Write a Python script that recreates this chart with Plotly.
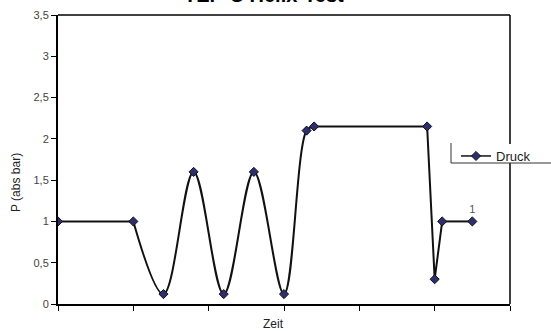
import plotly.graph_objects as go

# ---- data ----
zeit = [0, 1, 1.4, 1.8, 2.2, 2.6, 3.0, 3.3, 3.4, 4.9, 5.0, 5.1, 5.5]
druck = [1, 1, 0.12, 1.6, 0.12, 1.6, 0.12, 2.1, 2.15, 2.15, 0.3, 1, 1]
point_labels = [""] * 12 + ["1"]
y_tickvals = [0, 0.5, 1, 1.5, 2, 2.5, 3, 3.5]
y_ticktext = ["0", "0,5", "1", "1,5", "2", "2,5", "3", "3,5"]
x_tickvals = [0, 1, 2, 3, 4, 5, 6]

# how the connecting line is drawn between point indices (Excel-like smoothing)
segments = [(0, 1, "linear"), (1, 8, "spline"), (8, 9, "linear"),
            (9, 11, "linear"), (11, 12, "linear")]

FONT = "Liberation Sans, Arial, sans-serif"
LINE = dict(color="#111", width=2)
MARKER = dict(symbol="diamond", size=7, color="#2E2E6E",
              line=dict(color="#111", width=1))

# plot area in pixels
W, H = 551, 331
L, R, T, B = 58, 510, 15, 304
pw, ph = R - L, B - T


def px(x):
    return (x - L) / pw


def py(y):
    return (B - y) / ph


fig = go.Figure()
for a, b, shape in segments:
    fig.add_trace(go.Scatter(
        x=zeit[a:b + 1], y=druck[a:b + 1], mode="lines",
        line=dict(**LINE, shape=shape, smoothing=1),
        showlegend=False, hoverinfo="skip"))

fig.add_trace(go.Scatter(
    x=zeit, y=druck, name="Druck", mode="markers+text",
    text=point_labels, textposition="top center",
    textfont=dict(family=FONT, size=11, color="#555"),
    marker=MARKER, showlegend=False))

# legend entry
fig.add_trace(go.Scatter(
    x=[None], y=[None], name="Druck", mode="lines+markers",
    line=dict(color="#111", width=1.5), marker=MARKER, showlegend=True))

fig.update_layout(
    width=W, height=H,
    margin=dict(l=L, r=W - R, t=T, b=H - B, autoexpand=False),
    paper_bgcolor="white", plot_bgcolor="white",
    font=dict(family=FONT, size=11, color="#333"),
    showlegend=True,
    legend=dict(x=px(456), y=py(141), xanchor="left", yanchor="top",
                bgcolor="rgba(0,0,0,0)", borderwidth=0,
                font=dict(family=FONT, size=13, color="#222"),
                itemwidth=30),
    xaxis=dict(range=[0, 6], tickvals=x_tickvals, ticktext=[""] * 7,
               showgrid=False, zeroline=False,
               showline=True, linecolor="black", linewidth=2,
               ticks="outside", ticklen=5, tickcolor="black", tickwidth=1),
    yaxis=dict(range=[0, 3.5], tickvals=y_tickvals, ticktext=y_ticktext,
               showgrid=False, zeroline=False,
               showline=True, linecolor="black", linewidth=2,
               ticks="outside", ticklen=5, tickcolor="black", tickwidth=1,
               tickfont=dict(family=FONT, size=11, color="#444")),
    shapes=[
        # frame top / right
        dict(type="line", xref="paper", yref="paper", x0=0, x1=1, y0=1, y1=1,
             line=dict(color="black", width=1.5), layer="above"),
        dict(type="line", xref="paper", yref="paper", x0=1, x1=1, y0=0, y1=1,
             line=dict(color="black", width=1.5), layer="above"),
        # legend box
        dict(type="rect", xref="paper", yref="paper",
             x0=px(451), x1=px(552), y0=py(163), y1=py(144),
             fillcolor="white", line=dict(width=0), layer="above"),
        dict(type="line", xref="paper", yref="paper",
             x0=px(451), x1=px(451), y0=py(163), y1=py(143),
             line=dict(color="#333", width=1), layer="above"),
        dict(type="line", xref="paper", yref="paper",
             x0=px(451), x1=px(552), y0=py(163), y1=py(163),
             line=dict(color="#333", width=1), layer="above"),
    ],
    annotations=[
        dict(text="<b>TEP-C Helix-Test</b>", xref="paper", yref="paper",
             x=px(264), y=py(8), xanchor="center", yanchor="bottom",
             showarrow=False, font=dict(family=FONT, size=20, color="black")),
        dict(text="P (abs bar)", xref="paper", yref="paper",
             x=px(16), y=py(183), xanchor="center", yanchor="middle",
             textangle=-90, showarrow=False,
             font=dict(family=FONT, size=12, color="#222")),
        dict(text="Zeit", xref="paper", yref="paper",
             x=px(273), y=py(324), xanchor="center", yanchor="middle",
             showarrow=False, font=dict(family=FONT, size=12, color="#222")),
    ],
)

fig.write_html("out.html",
               config={"displayModeBar": False},
               post_script="document.body.style.margin='0';"
                           "document.body.style.padding='0';")
